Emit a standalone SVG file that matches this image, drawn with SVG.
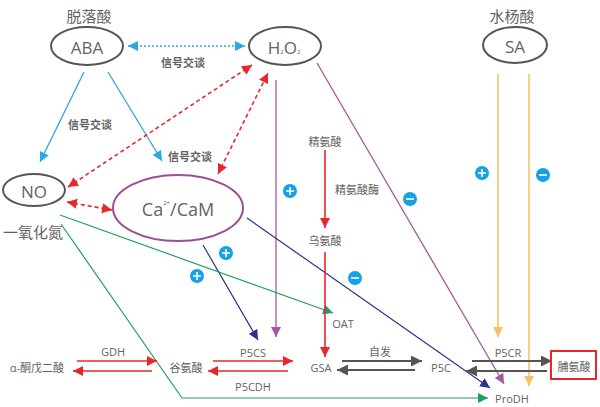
<svg xmlns="http://www.w3.org/2000/svg" width="600" height="407" viewBox="0 0 600 407">
<style>
.t{font-family:"Open Sans","Noto Sans CJK SC",sans-serif;fill:#636363;text-anchor:middle;dominant-baseline:central}
.cj{font-family:"Noto Sans CJK SC",sans-serif;fill:#636363;text-anchor:middle;dominant-baseline:central}
.node{fill:#fff;stroke:#555;stroke-width:2}
.blue{stroke:#2aa8e0;stroke-width:1.3;fill:none}
.bdot{stroke:#2aa8e0;stroke-width:1.6;fill:none;stroke-dasharray:2 2}
.rdash{stroke:#e8262b;stroke-width:1.6;fill:none;stroke-dasharray:4 3}
.red{stroke:#e8262b;stroke-width:1.6;fill:none}
.gray{stroke:#555;stroke-width:1.8;fill:none}
.purp{stroke:#a05a9c;stroke-width:1.3;fill:none}
.navy{stroke:#2e3192;stroke-width:1.2;fill:none}
.grn{stroke:#20a060;stroke-width:1.2;fill:none}
.yel{stroke:#f5c26b;stroke-width:1.6;fill:none}
.sign{fill:#18a0e6}
.sl{stroke:#fff;stroke-width:1.6}
</style>
<defs>
<marker id="mb" viewBox="0 0 10 10" refX="10" refY="5" markerWidth="10" markerHeight="10" markerUnits="userSpaceOnUse" orient="auto-start-reverse"><path d="M0,0L10,5L0,10z" fill="#2aa8e0"/></marker>
<marker id="mr" viewBox="0 0 10 10" refX="10" refY="5" markerWidth="10" markerHeight="10" markerUnits="userSpaceOnUse" orient="auto-start-reverse"><path d="M0,0L10,5L0,10z" fill="#e8262b"/></marker>
<marker id="mg" viewBox="0 0 10 10" refX="10" refY="5" markerWidth="11" markerHeight="11" markerUnits="userSpaceOnUse" orient="auto-start-reverse"><path d="M0,0L10,5L0,10z" fill="#555"/></marker>
<marker id="mp" viewBox="0 0 10 10" refX="10" refY="5" markerWidth="10" markerHeight="10" markerUnits="userSpaceOnUse" orient="auto"><path d="M0,0L10,5L0,10z" fill="#a05a9c"/></marker>
<marker id="mn" viewBox="0 0 10 10" refX="10" refY="5" markerWidth="10" markerHeight="10" markerUnits="userSpaceOnUse" orient="auto"><path d="M0,0L10,5L0,10z" fill="#2e3192"/></marker>
<marker id="mgr" viewBox="0 0 10 10" refX="10" refY="5" markerWidth="10" markerHeight="10" markerUnits="userSpaceOnUse" orient="auto"><path d="M0,0L10,5L0,10z" fill="#20a060"/></marker>
<marker id="my" viewBox="0 0 10 10" refX="10" refY="5" markerWidth="10" markerHeight="10" markerUnits="userSpaceOnUse" orient="auto"><path d="M0,0L10,5L0,10z" fill="#f5c26b"/></marker>
<g id="plus"><circle r="7" class="sign"/><path d="M-4,0H4M0,-4V4" class="sl"/></g>
<g id="minus"><circle r="7" class="sign"/><path d="M-4,0H4" class="sl"/></g>
</defs>
<rect width="600" height="407" fill="#fff"/>

<g id="connectors">
<line x1="128" y1="46" x2="245" y2="46" class="bdot" marker-start="url(#mb)" marker-end="url(#mb)"/>
<line x1="84" y1="72" x2="40" y2="162" class="blue" marker-end="url(#mb)"/>
<line x1="108" y1="72" x2="162" y2="161" class="blue" marker-end="url(#mb)"/>
<line x1="68" y1="187" x2="252" y2="65" class="rdash" marker-start="url(#mr)" marker-end="url(#mr)"/>
<line x1="218" y1="174" x2="268" y2="73" class="rdash" marker-start="url(#mr)" marker-end="url(#mr)"/>
<line x1="67" y1="202" x2="112" y2="210" class="rdash" marker-start="url(#mr)" marker-end="url(#mr)"/>
<line x1="276" y1="80" x2="276" y2="337" class="purp" marker-end="url(#mp)"/>
<line x1="317" y1="63" x2="504" y2="384" class="purp" marker-end="url(#mp)"/>
<line x1="203" y1="245" x2="258" y2="340" class="navy" marker-end="url(#mn)"/>
<line x1="247" y1="218" x2="490" y2="388" class="navy" marker-end="url(#mn)"/>
<line x1="60" y1="215" x2="333" y2="313" class="grn" marker-end="url(#mgr)"/>
<polyline points="61,224 182,398 488,398" class="grn" marker-end="url(#mgr)"/>
<line x1="498" y1="74" x2="498" y2="337" class="yel" marker-end="url(#my)"/>
<line x1="529" y1="74" x2="529" y2="386" class="yel" marker-end="url(#my)"/>
<line x1="325" y1="150" x2="325" y2="228" class="red" marker-end="url(#mr)"/>
<line x1="325" y1="252" x2="325" y2="357" class="red" marker-end="url(#mr)"/>
<line x1="77" y1="361" x2="157" y2="361" class="red" marker-end="url(#mr)"/>
<line x1="152" y1="371" x2="73" y2="371" class="red" marker-end="url(#mr)"/>
<line x1="213" y1="361" x2="293" y2="361" class="red" marker-end="url(#mr)"/>
<line x1="288" y1="371" x2="208" y2="371" class="red" marker-end="url(#mr)"/>
<line x1="342" y1="361" x2="422" y2="361" class="gray" marker-end="url(#mg)"/>
<line x1="415" y1="370" x2="337" y2="370" class="gray" marker-end="url(#mg)"/>
<line x1="472" y1="361" x2="552" y2="361" class="gray" marker-end="url(#mg)"/>
<line x1="547" y1="371" x2="466" y2="371" class="gray" marker-end="url(#mg)"/>
<text x="183" y="62" class="cj" font-size="11" font-weight="bold">信号交谈</text>
<text x="90" y="124" class="cj" font-size="11" font-weight="bold">信号交谈</text>
<text x="190" y="156" class="cj" font-size="11" font-weight="bold">信号交谈</text>
<text x="357" y="189" class="cj" font-size="11">精氨酸酶</text>
<text x="113" y="351" class="t" font-size="11">GDH</text>
<text x="253" y="352" class="t" font-size="11">P5CS</text>
<text x="253" y="386" class="t" font-size="11">P5CDH</text>
<text x="380" y="351" class="cj" font-size="11">自发</text>
<text x="508" y="352" class="t" font-size="11">P5CR</text>
<text x="343" y="323" class="t" font-size="11">OAT</text>
<use href="#plus" x="290" y="191"/>
<use href="#plus" x="226" y="253"/>
<use href="#plus" x="197" y="276"/>
<use href="#minus" x="355" y="278"/>
<use href="#minus" x="410" y="199"/>
<use href="#plus" x="482" y="173"/>
<use href="#minus" x="543" y="175"/>
</g>

<g id="ABA">
<text x="89" y="15" class="cj" font-size="15">脱落酸</text>
<ellipse cx="87" cy="46" rx="36" ry="19" class="node"/>
<text x="87" y="47" class="t" font-size="17">ABA</text>
</g>
<g id="H2O2">
<ellipse cx="285" cy="46" rx="36" ry="19" class="node"/>
<text x="284" y="47" class="t" font-size="17">H<tspan font-size="6" dy="5">2</tspan><tspan dy="-5">O</tspan><tspan font-size="6" dy="5">2</tspan></text>
</g>
<g id="SA">
<text x="512" y="15" class="cj" font-size="15">水杨酸</text>
<ellipse cx="515" cy="45" rx="32" ry="18" class="node"/>
<text x="515" y="46" class="t" font-size="17">SA</text>
</g>
<g id="NO">
<ellipse cx="34" cy="190" rx="31" ry="16" class="node"/>
<text x="34" y="191" class="t" font-size="17">NO</text>
<text x="33" y="231" class="cj" font-size="15">一氧化氮</text>
</g>
<g id="CaCaM">
<ellipse cx="178" cy="208" rx="65" ry="33" fill="#fff" stroke="#9b4f96" stroke-width="2"/>
<text x="178" y="209" class="t" font-size="18">Ca<tspan font-size="6" dy="-6">2+</tspan><tspan dy="6">/CaM</tspan></text>
</g>
<g id="arginine"><text x="325" y="141" class="cj" font-size="11">精氨酸</text></g>
<g id="ornithine"><text x="325" y="240" class="cj" font-size="11">乌氨酸</text></g>
<g id="akg"><text x="37" y="367" class="t" font-size="11">α-酮戊二酸</text></g>
<g id="glutamate"><text x="186" y="367" class="cj" font-size="11">谷氨酸</text></g>
<g id="GSA"><text x="321" y="367" class="t" font-size="11">GSA</text></g>
<g id="P5C"><text x="441" y="367" class="t" font-size="11">P5C</text></g>
<g id="ProDH"><text x="512" y="398" class="t" font-size="11">ProDH</text></g>
<g id="proline">
<rect x="551" y="351" width="45" height="28" fill="#fff" stroke="#e8262b" stroke-width="2"/>
<text x="574" y="366" class="cj" font-size="11">脯氨酸</text>
</g>
</svg>
